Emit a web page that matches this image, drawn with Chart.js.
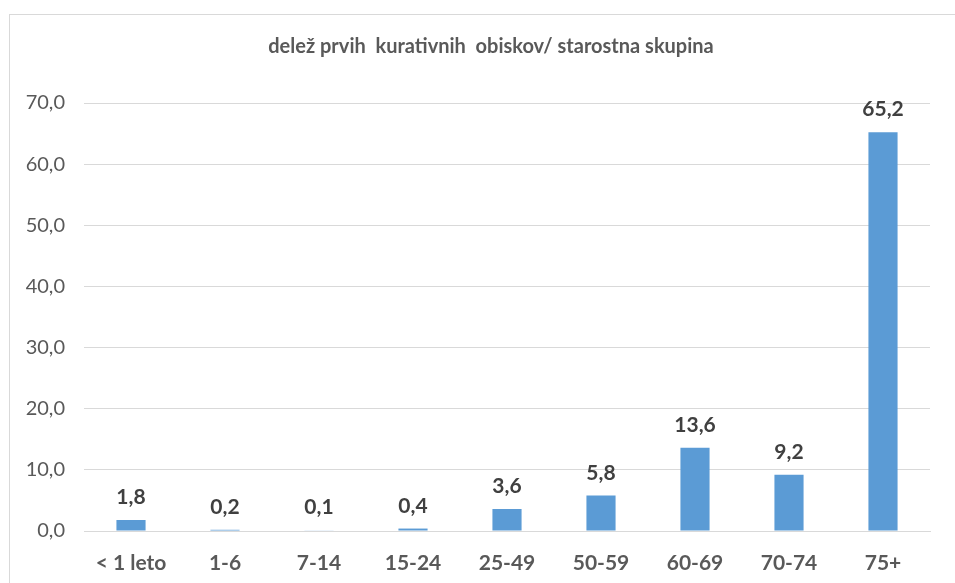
<!DOCTYPE html>
<html>
<head>
<meta charset="utf-8">
<script src="https://cdn.jsdelivr.net/npm/chart.js@4/dist/chart.umd.min.js"></script>
<style>
  html, body { margin: 0; padding: 0; background: #fff; overflow: hidden; }
  #frame { position: absolute; left: 9px; top: 14px; width: 960px; height: 580px; border: 1px solid #d9d9d9; }
  #c { position: absolute; left: 0; top: 0; }
</style>
</head>
<body>
<div id="frame"></div>
<canvas id="c" width="955" height="583"></canvas>
<script>
'use strict';

// starostne skupine in deleži
const categories = ['< 1 leto', '1-6', '7-14', '15-24', '25-49', '50-59', '60-69', '70-74', '75+'];
const values = [1.8, 0.2, 0.1, 0.4, 3.6, 5.8, 13.6, 9.2, 65.2];
const yTicks = [0, 10, 20, 30, 40, 50, 60, 70];
const titleText = 'delež prvih  kurativnih  obiskov/ starostna skupina';

const FONT = 'Lato, "Open Sans", sans-serif';
const fmt = v => v.toFixed(1).replace('.', ',');

// naslov
const titlePlugin = {
  id: 'fixedTitle',
  afterDraw(chart) {
    const ctx = chart.ctx;
    ctx.save();
    ctx.font = 'bold 20px ' + FONT;
    ctx.fillStyle = '#595959';
    ctx.textAlign = 'center';
    ctx.textBaseline = 'middle';
    ctx.fillText(titleText, 491, 47);
    ctx.restore();
  }
};

// oznake vrednosti nad stolpci
const labelPlugin = {
  id: 'barLabels',
  afterDatasetsDraw(chart) {
    const ctx = chart.ctx;
    const meta = chart.getDatasetMeta(0);
    ctx.save();
    ctx.font = 'bold 21px ' + FONT;
    ctx.fillStyle = '#404040';
    ctx.textAlign = 'center';
    ctx.textBaseline = 'alphabetic';
    meta.data.forEach((bar, i) => {
      ctx.fillText(fmt(values[i]), bar.x, bar.y - 16);
    });
    ctx.restore();
  }
};

new Chart(document.getElementById('c'), {
  type: 'bar',
  data: {
    labels: categories,
    datasets: [{
      data: values,
      backgroundColor: '#5B9BD5',
      barPercentage: 0.31,
      categoryPercentage: 1.0
    }]
  },
  options: {
    responsive: false,
    animation: false,
    layout: { padding: { left: 0, right: 25, top: 103, bottom: 0 } },
    plugins: {
      legend: { display: false },
      tooltip: { enabled: false }
    },
    scales: {
      x: {
        grid: { display: false, drawTicks: false },
        border: { color: '#d9d9d9' },
        ticks: { color: '#595959', font: { family: FONT, size: 21, weight: 'bold' }, padding: 20, maxRotation: 0 },
        afterFit(scale) { scale.height = 52; }
      },
      y: {
        min: 0,
        max: 70,
        afterBuildTicks(scale) { scale.ticks = yTicks.map(v => ({ value: v })); },
        grid: { color: '#d9d9d9', drawTicks: false },
        border: { display: false },
        ticks: { color: '#595959', font: { family: FONT, size: 20 }, padding: 19, callback: v => fmt(v) },
        afterFit(scale) { scale.width = 84; }
      }
    }
  },
  plugins: [titlePlugin, labelPlugin]
});
</script>
</body>
</html>
